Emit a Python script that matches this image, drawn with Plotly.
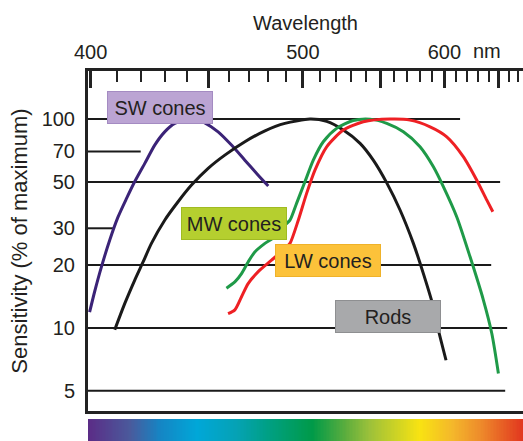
import numpy as np
import plotly.graph_objects as go

# ---------------- data (wavelength in nm, sensitivity in % of maximum) ----------------
sw_nm = [399.6, 401.5, 404.1, 407.3, 410.6, 414.0, 417.3, 421.5, 425.7, 430.0, 434.4, 438.9,
         443.5, 448.2, 454.6, 461.2, 468.0, 475.0, 480.4]
sw_val = [11.9, 14.9, 19.6, 26.3, 34.0, 41.7, 50.1, 61.4, 75.1, 86.9, 95.4, 99.0,
          100, 96.0, 86.9, 75.1, 63.6, 53.9, 47.8]

rods_nm = [409.3, 413.3, 417.3, 420.8, 424.3, 430.0, 435.9, 442.0, 449.8, 457.9, 468.0, 478.6,
           489.6, 504.2, 514.4, 525.0, 536.1, 545.2, 554.8, 564.6, 574.8, 582.7, 590.8, 594.9, 601.4]
rods_val = [9.8, 13.1, 16.9, 20.7, 25.4, 32.8, 40.2, 48.3, 58.1, 67.2, 77.9, 87.9,
            95.4, 100, 97.5, 88.6, 76.5, 63.6, 49.5, 36.7, 25.4, 18.2, 12.6, 9.8, 7.0]

mw_nm = [458.7, 462.9, 466.3, 469.7, 473.2, 478.6, 484.0, 489.6, 492.5, 496.3, 501.2, 506.2,
         512.3, 520.7, 531.5, 542.9, 554.8, 567.1, 580.0, 590.8, 599.2, 610.7, 622.6, 635.0,
         643.1, 649.6]
mw_val = [15.5, 16.6, 18.2, 20.7, 23.1, 25.4, 27.3, 31.1, 32.8, 39.5, 50.1, 63.6,
          77.9, 90.3, 98.5, 100, 95.4, 86.9, 73.7, 59.1, 47.4, 34.0, 21.9, 13.6,
          9.4, 6.05]

lw_nm = [459.5, 462.9, 466.3, 469.7, 475.0, 482.2, 489.6, 492.5, 497.3, 502.2, 507.2, 514.4,
         525.0, 538.3, 557.2, 572.2, 588.1, 602.0, 616.6, 628.8, 638.3, 644.1]
lw_val = [11.7, 12.2, 14.1, 16.3, 18.6, 21.1, 24.0, 25.4, 32.8, 44.1, 57.0, 73.7,
          88.6, 97.1, 100, 98.9, 91.9, 82.3, 66.0, 51.0, 40.9, 36.0]

# reference lines (value, and wavelength where each line stops)
grid_vals = [100, 70, 50, 30, 20, 10, 5]
grid_end_nm = [613.6, 419.8, 651.3, 408.9, 642.5, 658.4, 656.4]

# axis ticks
major_nm = [400, 450, 500, 550, 600, 650]
major_labels = ["400", "", "500", "", "600", ""]
minor_nm = [w for w in range(410, 680, 10) if w % 50 != 0]
y_ticks = [5, 10, 20, 30, 50, 70, 100]
x_range_nm = [399, 675]
y_range = [4.0, 170]

# curve labels
label_text = ["SW cones", "MW cones", "LW cones", "Rods"]
label_nm = [427.9, 462.4, 515.5, 555.4]
label_val = [114, 31.6, 21.1, 11.4]

# spectrum colour stops
spec_pos = [0, 0.097, 0.166, 0.251, 0.343, 0.411, 0.517, 0.595, 0.648, 0.763, 0.839, 0.901, 1]
spec_col = ["#5b2c86", "#4a5a9c", "#1585c4", "#00a7d8", "#05a2b4", "#00a086", "#009a48",
            "#5fae3d", "#9cc13a", "#f8e312", "#f4b72b", "#ee8d2b", "#e2371f"]

# ---------------- styling ----------------
FONT = "Liberation Sans, Arial, Helvetica, sans-serif"
INK = "#231f20"
AXC = "#222222"
curve_colors = {"sw": "#3b2377", "rods": "#1a1a1a", "mw": "#1f9a48", "lw": "#ee2024"}
label_fill = ["#bba4d3", "#b5cf2f", "#fcc23a", "#a8a9ab"]
label_border = ["#a48bc2", "#a0bb22", "#efb22a", "#8e8f91"]


def wn(nm_list):
    """wavelength (nm) -> wavenumber (cm^-1), the axis is linear in wavenumber"""
    return [1e7 / v for v in nm_list]


fig = go.Figure()

for key, xs, ys in [("sw", sw_nm, sw_val), ("rods", rods_nm, rods_val),
                    ("mw", mw_nm, mw_val), ("lw", lw_nm, lw_val)]:
    fig.add_trace(go.Scatter(
        x=wn(xs), y=ys, mode="lines",
        line=dict(color=curve_colors[key], width=3, shape="spline", smoothing=0.7),
        hoverinfo="skip", showlegend=False))

# spectrum bar
N = 300
t = np.linspace(0, 1, N)
fig.add_trace(go.Heatmap(
    z=[t], x=t, y=[0], xaxis="x2", yaxis="y2",
    colorscale=[[p, c] for p, c in zip(spec_pos, spec_col)],
    showscale=False, hoverinfo="skip", zmin=0, zmax=1))

# reference lines
x_left = 1e7 / x_range_nm[0]
for v, end in zip(grid_vals, grid_end_nm):
    fig.add_shape(type="line", xref="x", yref="y", x0=x_left, x1=1e7 / end, y0=v, y1=v,
                  line=dict(color="#1a1a1a", width=2), layer="below")

# labelled boxes
for txt, nm, val, fc, bc in zip(label_text, label_nm, label_val, label_fill, label_border):
    fig.add_annotation(
        x=1e7 / nm, y=np.log10(val), xref="x", yref="y", text=txt, showarrow=False,
        width=102, height=29, bgcolor=fc, bordercolor=bc, borderwidth=1, borderpad=1,
        font=dict(family=FONT, size=20, color=INK), xanchor="center", yanchor="middle")

# "nm" unit next to tick labels
fig.add_annotation(x=1e7 / 638.6, y=1.0554, xref="x", yref="paper", text="nm",
                   showarrow=False, font=dict(family=FONT, size=20, color=INK),
                   xanchor="center", yanchor="middle")

fig.update_layout(
    width=523, height=441,
    margin=dict(l=88, r=0, t=71, b=0),
    paper_bgcolor="white", plot_bgcolor="white",
    font=dict(family=FONT, color=INK),
    xaxis=dict(
        side="top", range=wn(x_range_nm), showgrid=False, zeroline=False, automargin=False,
        showline=True, linewidth=3, linecolor=AXC, mirror=True,
        ticks="inside", tickvals=wn(major_nm), ticktext=major_labels,
        ticklen=17, tickwidth=3, tickcolor=AXC,
        tickfont=dict(family=FONT, size=20, color=INK), ticklabelstandoff=1,
        minor=dict(tickvals=wn(minor_nm), ticks="inside", ticklen=11, tickwidth=1.5,
                   tickcolor=AXC, showgrid=False),
        title=dict(text="Wavelength", font=dict(family=FONT, size=20, color=INK), standoff=6),
    ),
    yaxis=dict(
        type="log", range=[np.log10(y_range[0]), np.log10(y_range[1])],
        domain=[30 / 370, 1], showgrid=False, zeroline=False, automargin=False,
        showline=True, linewidth=3, linecolor=AXC,
        ticks="", tickvals=y_ticks, ticktext=[str(v) for v in y_ticks],
        tickfont=dict(family=FONT, size=20, color=INK), ticklabelstandoff=6,
        title=dict(text="Sensitivity (% of maximum)", font=dict(family=FONT, size=22, color=INK),
                   standoff=8),
    ),
    xaxis2=dict(domain=[0, 1], anchor="y2", range=[0, 1], visible=False),
    yaxis2=dict(domain=[0, 22 / 370], anchor="x2", range=[-0.5, 0.5], visible=False),
)

fig.write_html("out.html", config={"displayModeBar": False},
               post_script="document.body.style.margin='0px';")
